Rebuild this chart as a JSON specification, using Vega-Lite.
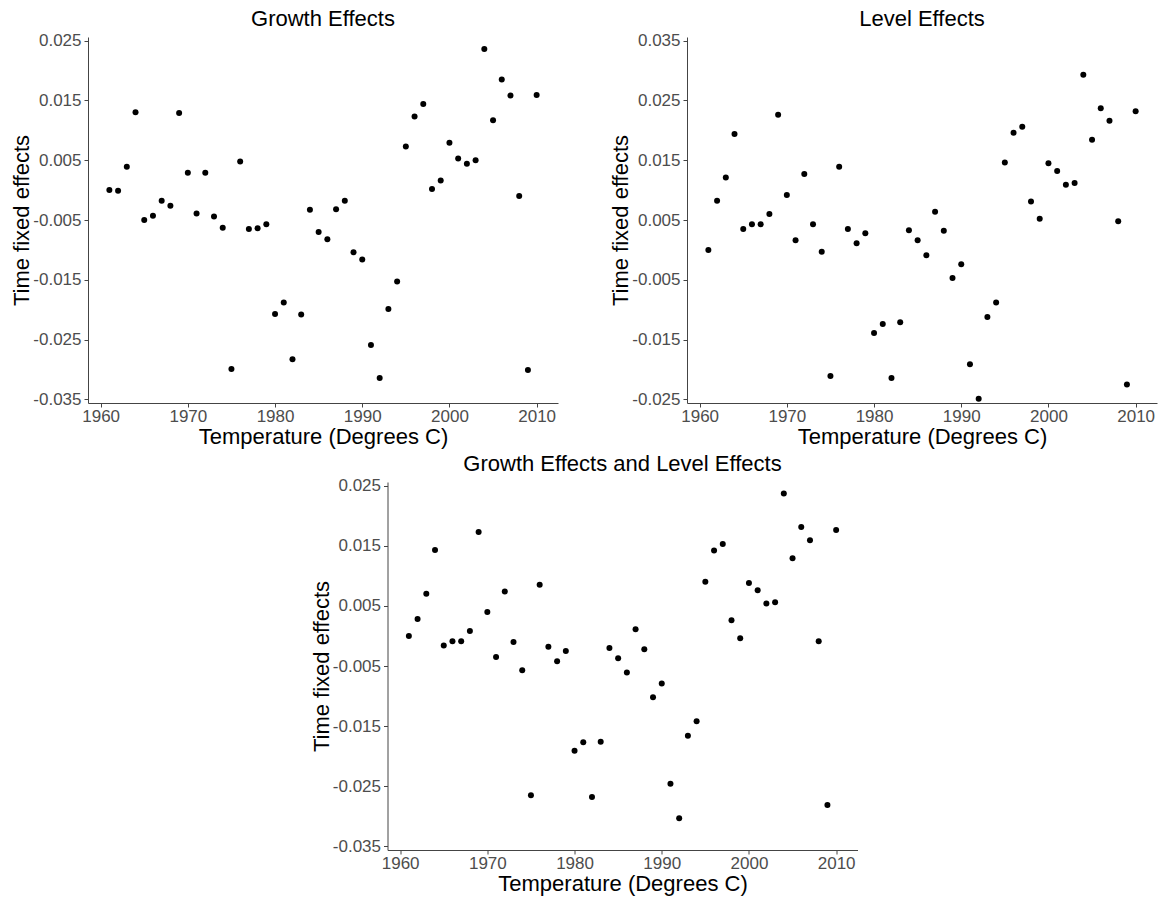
{
  "$schema": "https://vega.github.io/schema/vega-lite/v6.json",
  "background": "white",
  "padding": {"left": 10, "top": 7, "right": 5, "bottom": 2},
  "config": {
    "view": {"stroke": null},
    "font": "Liberation Sans",
    "axis": {
      "grid": false,
      "domainColor": "#444444",
      "domainWidth": 1,
      "tickColor": "#444444",
      "tickSize": 4,
      "labelColor": "#4D4D4D",
      "labelFontSize": 17,
      "titleFontSize": 22,
      "titleFontWeight": "normal",
      "titleColor": "black"
    },
    "axisX": {"labelPadding": 1, "titlePadding": 2},
    "axisY": {"labelPadding": 3, "titlePadding": -1},
    "title": {"fontSize": 22, "fontWeight": "normal", "color": "black", "anchor": "middle", "offset": 1},
    "point": {"filled": true, "color": "black", "size": 36, "opacity": 1}
  },
  "datasets": {
    "growth": [
      {"year": 1961, "effect": 0.0000}, {"year": 1962, "effect": -0.0001}, {"year": 1963, "effect": 0.0039}, {"year": 1964, "effect": 0.0130},
      {"year": 1965, "effect": -0.0050}, {"year": 1966, "effect": -0.0043}, {"year": 1967, "effect": -0.0018}, {"year": 1968, "effect": -0.0026},
      {"year": 1969, "effect": 0.0129}, {"year": 1970, "effect": 0.0029}, {"year": 1971, "effect": -0.0039}, {"year": 1972, "effect": 0.0029},
      {"year": 1973, "effect": -0.0044}, {"year": 1974, "effect": -0.0063}, {"year": 1975, "effect": -0.0299}, {"year": 1976, "effect": 0.0048},
      {"year": 1977, "effect": -0.0065}, {"year": 1978, "effect": -0.0064}, {"year": 1979, "effect": -0.0057}, {"year": 1980, "effect": -0.0207},
      {"year": 1981, "effect": -0.0188}, {"year": 1982, "effect": -0.0283}, {"year": 1983, "effect": -0.0208}, {"year": 1984, "effect": -0.0033},
      {"year": 1985, "effect": -0.0070}, {"year": 1986, "effect": -0.0082}, {"year": 1987, "effect": -0.0032}, {"year": 1988, "effect": -0.0018},
      {"year": 1989, "effect": -0.0104}, {"year": 1990, "effect": -0.0116}, {"year": 1991, "effect": -0.0259}, {"year": 1992, "effect": -0.0314},
      {"year": 1993, "effect": -0.0199}, {"year": 1994, "effect": -0.0153}, {"year": 1995, "effect": 0.0073}, {"year": 1996, "effect": 0.0123},
      {"year": 1997, "effect": 0.0144}, {"year": 1998, "effect": 0.0002}, {"year": 1999, "effect": 0.0016}, {"year": 2000, "effect": 0.0079},
      {"year": 2001, "effect": 0.0053}, {"year": 2002, "effect": 0.0044}, {"year": 2003, "effect": 0.0050}, {"year": 2004, "effect": 0.0236},
      {"year": 2005, "effect": 0.0117}, {"year": 2006, "effect": 0.0185}, {"year": 2007, "effect": 0.0158}, {"year": 2008, "effect": -0.0010},
      {"year": 2009, "effect": -0.0301}, {"year": 2010, "effect": 0.0159}
    ],
    "level": [
      {"year": 1961, "effect": 0.0000}, {"year": 1962, "effect": 0.0082}, {"year": 1963, "effect": 0.0121}, {"year": 1964, "effect": 0.0194},
      {"year": 1965, "effect": 0.0035}, {"year": 1966, "effect": 0.0043}, {"year": 1967, "effect": 0.0043}, {"year": 1968, "effect": 0.0060},
      {"year": 1969, "effect": 0.0226}, {"year": 1970, "effect": 0.0092}, {"year": 1971, "effect": 0.0016}, {"year": 1972, "effect": 0.0127},
      {"year": 1973, "effect": 0.0043}, {"year": 1974, "effect": -0.0003}, {"year": 1975, "effect": -0.0211}, {"year": 1976, "effect": 0.0139},
      {"year": 1977, "effect": 0.0035}, {"year": 1978, "effect": 0.0011}, {"year": 1979, "effect": 0.0028}, {"year": 1980, "effect": -0.0139},
      {"year": 1981, "effect": -0.0124}, {"year": 1982, "effect": -0.0214}, {"year": 1983, "effect": -0.0121}, {"year": 1984, "effect": 0.0033},
      {"year": 1985, "effect": 0.0016}, {"year": 1986, "effect": -0.0009}, {"year": 1987, "effect": 0.0064}, {"year": 1988, "effect": 0.0032},
      {"year": 1989, "effect": -0.0047}, {"year": 1990, "effect": -0.0024}, {"year": 1991, "effect": -0.0191}, {"year": 1992, "effect": -0.0249},
      {"year": 1993, "effect": -0.0112}, {"year": 1994, "effect": -0.0088}, {"year": 1995, "effect": 0.0146}, {"year": 1996, "effect": 0.0196},
      {"year": 1997, "effect": 0.0206}, {"year": 1998, "effect": 0.0081}, {"year": 1999, "effect": 0.0052}, {"year": 2000, "effect": 0.0145},
      {"year": 2001, "effect": 0.0132}, {"year": 2002, "effect": 0.0109}, {"year": 2003, "effect": 0.0112}, {"year": 2004, "effect": 0.0293},
      {"year": 2005, "effect": 0.0184}, {"year": 2006, "effect": 0.0237}, {"year": 2007, "effect": 0.0216}, {"year": 2008, "effect": 0.0048},
      {"year": 2009, "effect": -0.0225}, {"year": 2010, "effect": 0.0232}
    ],
    "both": [
      {"year": 1961, "effect": 0.0000}, {"year": 1962, "effect": 0.0028}, {"year": 1963, "effect": 0.0070}, {"year": 1964, "effect": 0.0143},
      {"year": 1965, "effect": -0.0016}, {"year": 1966, "effect": -0.0009}, {"year": 1967, "effect": -0.0009}, {"year": 1968, "effect": 0.0008},
      {"year": 1969, "effect": 0.0173}, {"year": 1970, "effect": 0.0040}, {"year": 1971, "effect": -0.0035}, {"year": 1972, "effect": 0.0074},
      {"year": 1973, "effect": -0.0010}, {"year": 1974, "effect": -0.0057}, {"year": 1975, "effect": -0.0265}, {"year": 1976, "effect": 0.0085},
      {"year": 1977, "effect": -0.0018}, {"year": 1978, "effect": -0.0042}, {"year": 1979, "effect": -0.0025}, {"year": 1980, "effect": -0.0191},
      {"year": 1981, "effect": -0.0177}, {"year": 1982, "effect": -0.0268}, {"year": 1983, "effect": -0.0176}, {"year": 1984, "effect": -0.0020},
      {"year": 1985, "effect": -0.0037}, {"year": 1986, "effect": -0.0061}, {"year": 1987, "effect": 0.0011}, {"year": 1988, "effect": -0.0022},
      {"year": 1989, "effect": -0.0102}, {"year": 1990, "effect": -0.0079}, {"year": 1991, "effect": -0.0246}, {"year": 1992, "effect": -0.0303},
      {"year": 1993, "effect": -0.0166}, {"year": 1994, "effect": -0.0142}, {"year": 1995, "effect": 0.0090}, {"year": 1996, "effect": 0.0142},
      {"year": 1997, "effect": 0.0153}, {"year": 1998, "effect": 0.0026}, {"year": 1999, "effect": -0.0004}, {"year": 2000, "effect": 0.0088},
      {"year": 2001, "effect": 0.0076}, {"year": 2002, "effect": 0.0054}, {"year": 2003, "effect": 0.0056}, {"year": 2004, "effect": 0.0237},
      {"year": 2005, "effect": 0.0129}, {"year": 2006, "effect": 0.0181}, {"year": 2007, "effect": 0.0159}, {"year": 2008, "effect": -0.0009},
      {"year": 2009, "effect": -0.0281}, {"year": 2010, "effect": 0.0176}
    ]
  },
  "center": true,
  "spacing": 5,
  "vconcat": [
    {
      "spacing": 51,
      "hconcat": [
        {
          "title": "Growth Effects",
          "width": 470,
          "height": 366,
          "data": {"name": "growth"},
          "mark": {"type": "point", "clip": true},
          "encoding": {
            "x": {"field": "year", "type": "quantitative", "scale": {"domain": [1958.55, 2012.45], "nice": false, "zero": false},
                  "axis": {"title": "Temperature (Degrees C)", "values": [1960, 1970, 1980, 1990, 2000, 2010], "format": "d"}},
            "y": {"field": "effect", "type": "quantitative", "scale": {"domain": [-0.0356, 0.0256], "nice": false, "zero": false},
                  "axis": {"title": "Time fixed effects", "values": [-0.035, -0.025, -0.015, -0.005, 0.005, 0.015, 0.025],
                           "labelExpr": "replace(format(datum.value, '.3f'), '\u2212', '-')"}}
          }
        },
        {
          "title": "Level Effects",
          "width": 470,
          "height": 366,
          "data": {"name": "level"},
          "mark": {"type": "point", "clip": true},
          "encoding": {
            "x": {"field": "year", "type": "quantitative", "scale": {"domain": [1958.55, 2012.45], "nice": false, "zero": false},
                  "axis": {"title": "Temperature (Degrees C)", "values": [1960, 1970, 1980, 1990, 2000, 2010], "format": "d"}},
            "y": {"field": "effect", "type": "quantitative", "scale": {"domain": [-0.0256, 0.0356], "nice": false, "zero": false},
                  "axis": {"title": "Time fixed effects", "values": [-0.025, -0.015, -0.005, 0.005, 0.015, 0.025, 0.035],
                           "labelExpr": "replace(format(datum.value, '.3f'), '\u2212', '-')"}}
          }
        }
      ]
    },
    {
      "title": "Growth Effects and Level Effects",
      "width": 470,
      "height": 368,
      "data": {"name": "both"},
      "mark": {"type": "point", "clip": true},
      "encoding": {
        "x": {"field": "year", "type": "quantitative", "scale": {"domain": [1958.55, 2012.45], "nice": false, "zero": false},
              "axis": {"title": "Temperature (Degrees C)", "values": [1960, 1970, 1980, 1990, 2000, 2010], "format": "d"}},
        "y": {"field": "effect", "type": "quantitative", "scale": {"domain": [-0.0356, 0.0256], "nice": false, "zero": false},
              "axis": {"title": "Time fixed effects", "values": [-0.035, -0.025, -0.015, -0.005, 0.005, 0.015, 0.025],
                       "labelExpr": "replace(format(datum.value, '.3f'), '\u2212', '-')"}}
      }
    }
  ]
}
